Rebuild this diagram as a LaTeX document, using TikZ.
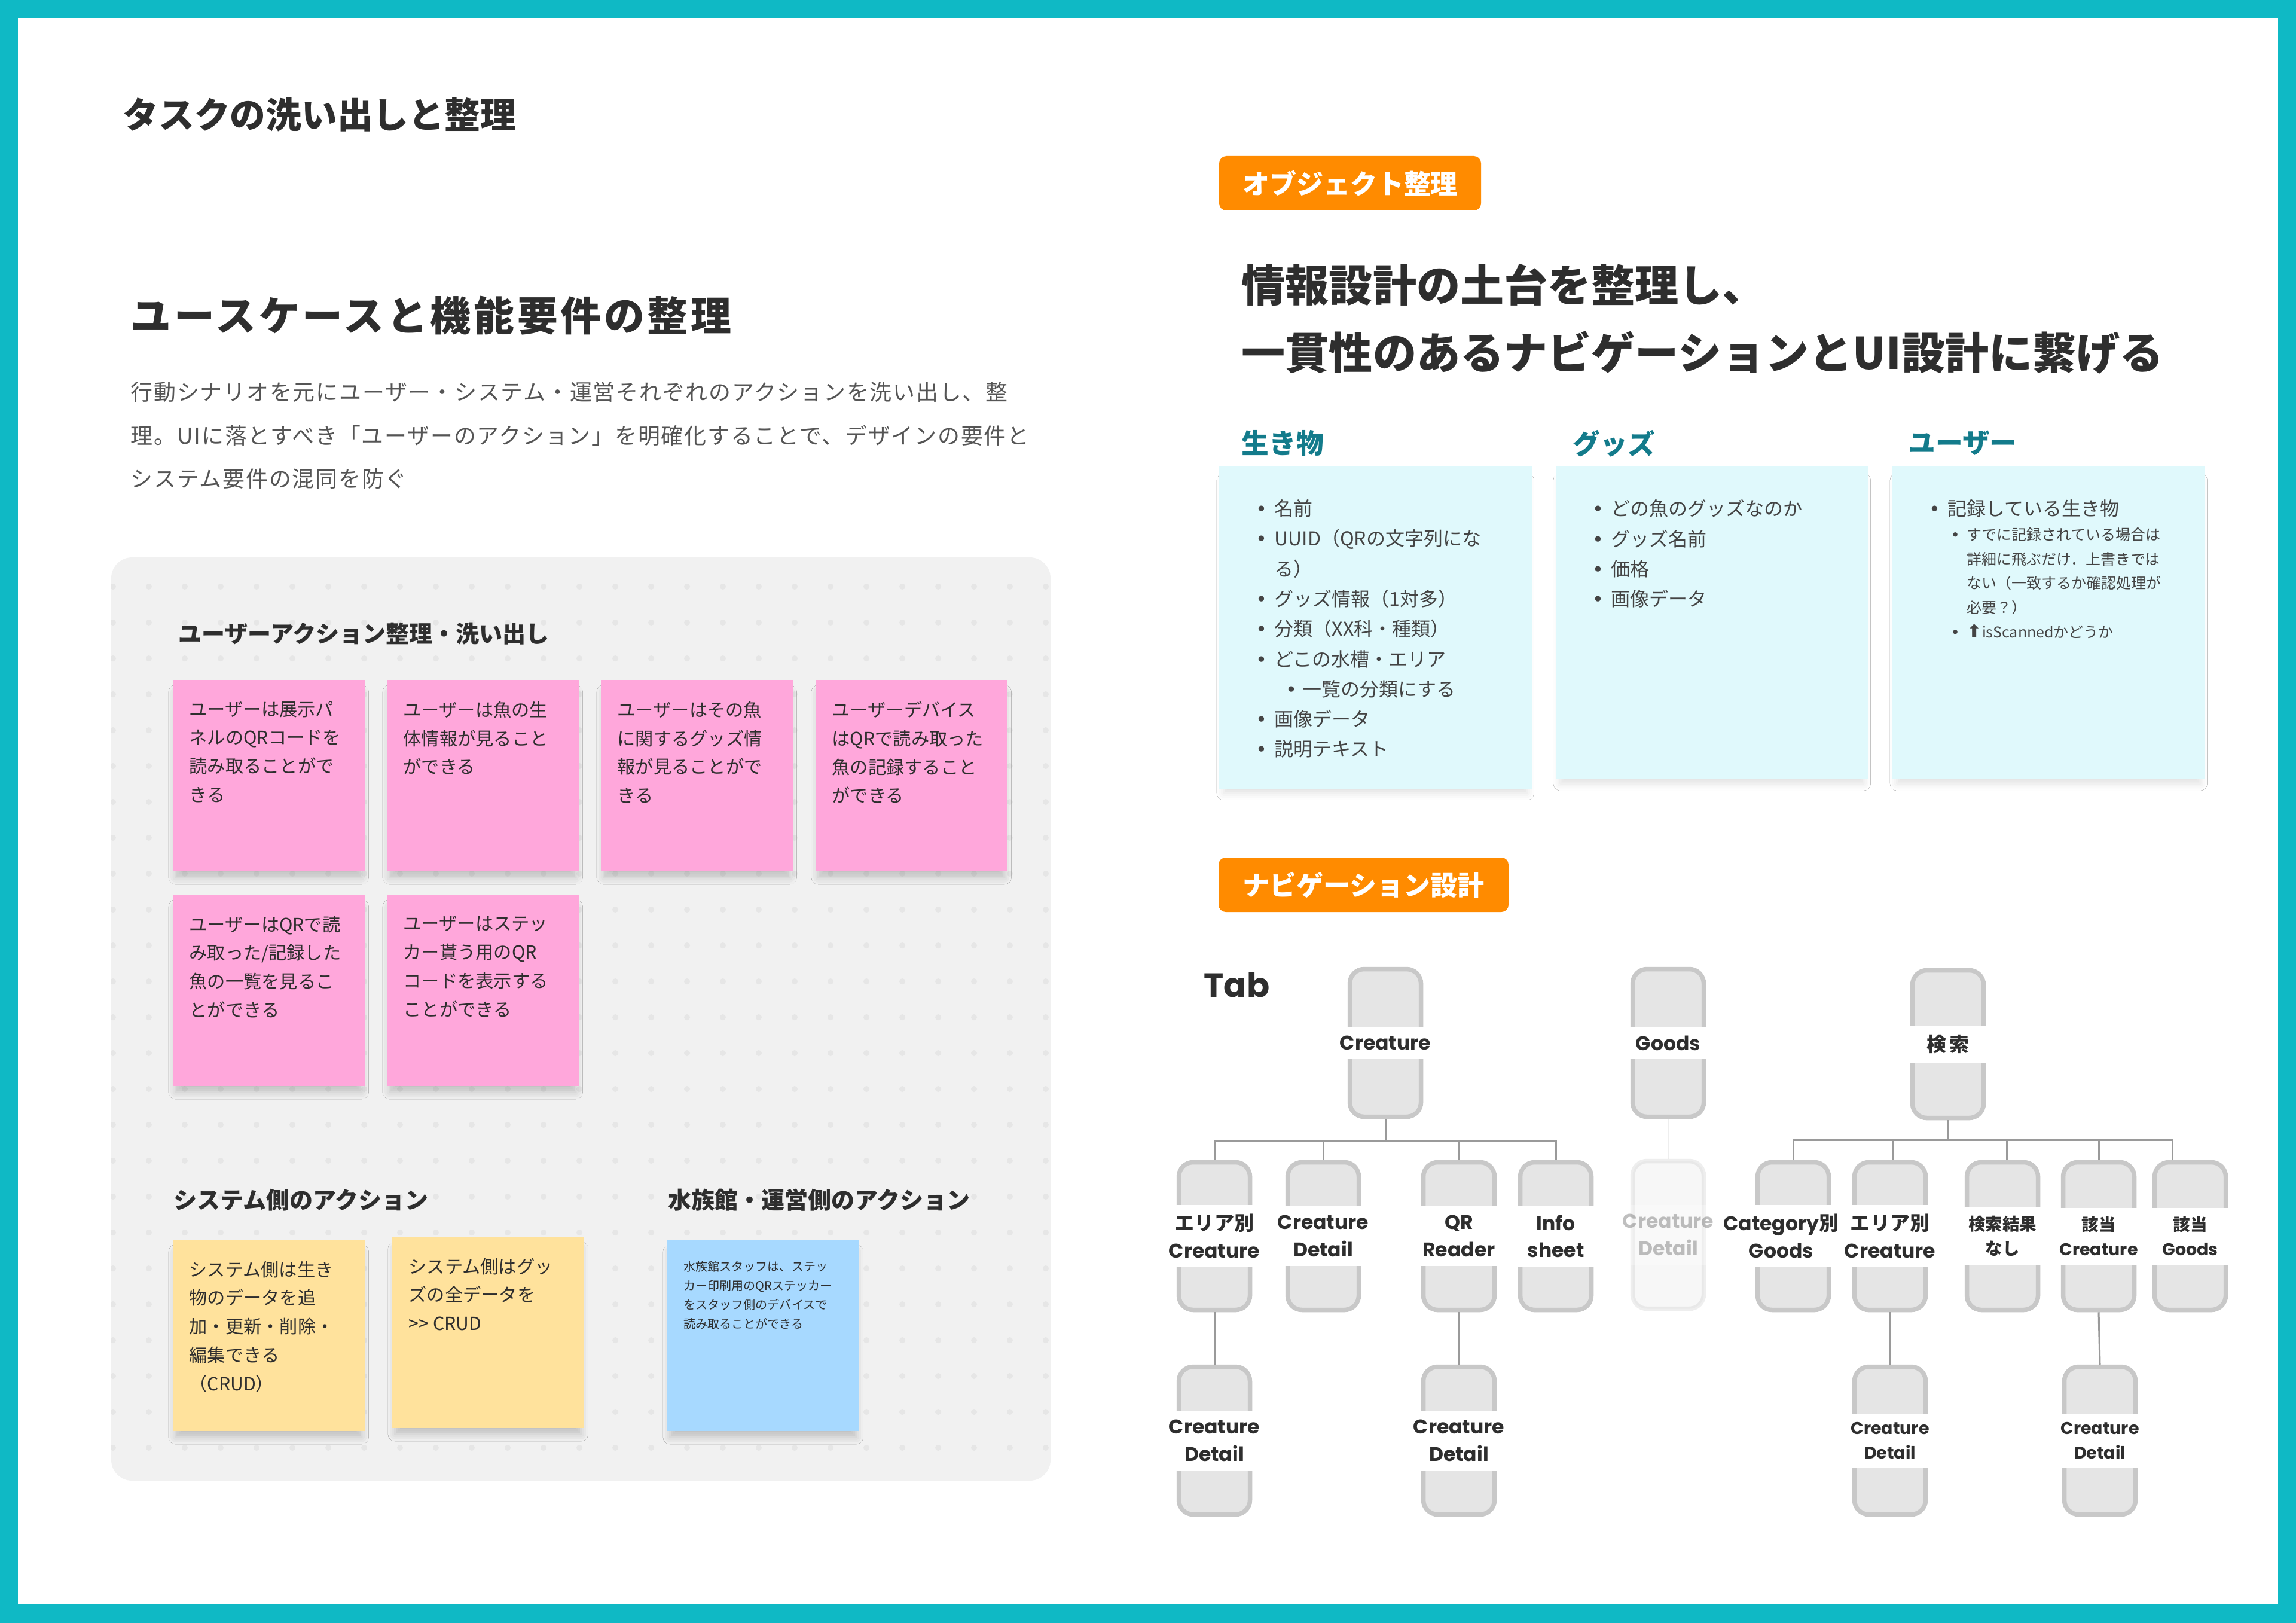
\documentclass[tikz,border=0pt]{standalone}
\usepackage{fontspec}
\setmainfont{Noto Sans CJK JP}
\newfontfamily\jp{Noto Sans CJK JP}
\newfontfamily\jpsp{Noto Sans CJK JP}[LetterSpace=7]
\newfontfamily\jpbody{Noto Sans CJK JP}[LetterSpace=5]
\newfontfamily\geo{Poppins}
\newfontfamily\sym{DejaVu Sans}
\usetikzlibrary{shadows.blur}

\definecolor{frameteal}{HTML}{0FB9C5}
\definecolor{ink}{HTML}{2E2E2E}
\definecolor{bodygray}{HTML}{555555}
\definecolor{panelgray}{HTML}{F1F1F1}
\definecolor{dotgray}{HTML}{E6E6E6}
\definecolor{pinknote}{HTML}{FFA7DB}
\definecolor{yellownote}{HTML}{FFE29C}
\definecolor{bluenote}{HTML}{A7D9FF}
\definecolor{cardcyan}{HTML}{E0F9FC}
\definecolor{badgeorange}{HTML}{FF8B00}
\definecolor{headteal}{HTML}{137B8B}
\definecolor{cardtext}{HTML}{444444}
\definecolor{navfill}{HTML}{E5E5E5}
\definecolor{navline}{HTML}{C8C8C8}
\definecolor{linkgray}{HTML}{9A9A9A}

\newcommand{\fsz}[2]{\fontsize{#1}{#2}\selectfont}
\newcommand{\J}[1]{{\jp #1}}
\newcommand{\notetext}[1]{\parbox[t][2.48cm][t]{2.65cm}{\fsz{8.6pt}{13.6pt}#1}}
\newcommand{\smallnote}[1]{\parbox[t][2.48cm][t]{2.65cm}{\fsz{5.7pt}{9.1pt}#1}}
\newcommand{\cardtext}[2]{\parbox[t][#1][t]{3.99cm}{\fsz{9.1pt}{14.3pt}#2}}
\newcommand{\bul}{\makebox[0.31cm][l]{\sym •}}

\begin{document}
\begin{tikzpicture}[x=1cm, y=-1cm,
  sticky/.style={anchor=north west, inner xsep=0.28cm, inner ysep=0.36cm, text=ink,
    blur shadow={shadow xshift=0cm, shadow yshift=-0.16cm, shadow scale=0.97, shadow blur radius=0.12cm, shadow opacity=20}},
  card/.style={anchor=north west, fill=cardcyan, inner xsep=0.62cm, inner ysep=0.56cm, text=cardtext,
    blur shadow={shadow xshift=0cm, shadow yshift=-0.16cm, shadow scale=0.97, shadow blur radius=0.12cm, shadow opacity=12}},
  badge/.style={fill=badgeorange, rounded corners=0.12cm, text=white, minimum height=0.91cm,
    inner sep=0, font=\fsz{12.8pt}{15pt}\bfseries},
  heading/.style={anchor=north west, inner sep=0, text=ink, font=\fsz{11.1pt}{13pt}\bfseries},
  colhead/.style={anchor=north west, inner sep=0, text=headteal, font=\fsz{13pt}{15pt}\bfseries},
  navbox/.style={draw=navline, fill=navfill, line width=0.075cm, rounded corners=0.24cm,
    minimum width=1.19cm, minimum height=2.47cm, inner sep=0},
  navlabel/.style={fill=white, minimum width=1.28cm, inner xsep=0, inner ysep=0.15cm,
    align=center, text=ink, font=\geo\bfseries\fsz{9.4pt}{13pt}},
  navsmall/.style={navlabel, font=\geo\bfseries\fsz{8.1pt}{11.5pt}},
  link/.style={draw=linkgray, line width=0.03cm},
]
    % Frame
    \fill[frameteal] (0,0) rectangle (38.4,27.14);
    \fill[white] (0.30,0.30) rectangle (38.10,26.83);
    \useasboundingbox (0,0) rectangle (38.4,27.14);

    % Titles (left)
    \node[anchor=north west, inner sep=0, text=ink, font=\fsz{17pt}{20pt}\bfseries] (title) at (2.05,1.63) {タスクの洗い出しと整理};
    \node[anchor=north west, inner sep=0, text=ink, font=\jpsp\fsz{19.3pt}{22pt}\bfseries] (usecase) at (2.18,4.94) {ユースケースと機能要件の整理};
    \node[anchor=north west, inner sep=0, align=left, text=bodygray, font=\jpbody\fsz{10.5pt}{20.6pt}] (intro) at (2.18,6.38)
        {行動シナリオを元にユーザー・システム・運営それぞれのアクションを洗い出し、整\\
         理。UIに落とすべき「ユーザーのアクション」を明確化することで、デザインの要件と\\
         システム要件の混同を防ぐ};

    % ==========================================
    % Board with sticky notes
    % ==========================================
    \fill[panelgray, rounded corners=0.35cm] (1.86,9.32) rectangle (17.57,24.76);
    \begin{scope}
        \clip[rounded corners=0.35cm] (1.86,9.32) rectangle (17.57,24.76);
        \foreach \i in {0,...,26}
            \foreach \j in {0,...,24}
                \fill[dotgray] ({1.89+0.6*\i},{9.81+0.6*\j}) circle (0.05);
    \end{scope}

    \node[heading] (userhead) at (2.98,10.40) {ユーザーアクション整理・洗い出し};

    % User actions (pink)
    \node[sticky, fill=pinknote] (u1) at (2.88,11.36) {\notetext{ユーザーは展示パ\\ネルのQRコードを\\読み取ることがで\\きる}};
    \node[sticky, fill=pinknote] (u2) at (6.46,11.36) {\notetext{ユーザーは魚の生\\体情報が見ること\\ができる}};
    \node[sticky, fill=pinknote] (u3) at (10.04,11.36) {\notetext{ユーザーはその魚\\に関するグッズ情\\報が見ることがで\\きる}};
    \node[sticky, fill=pinknote] (u4) at (13.63,11.36) {\notetext{ユーザーデバイス\\はQRで読み取った\\魚の記録すること\\ができる}};
    \node[sticky, fill=pinknote] (u5) at (2.88,14.95) {\notetext{ユーザーはQRで読\\み取った/記録した\\魚の一覧を見るこ\\とができる}};
    \node[sticky, fill=pinknote] (u6) at (6.46,14.95) {\notetext{ユーザーはステッ\\カー貰う用のQR\\コードを表示する\\ことができる}};

    % System / aquarium actions
    \node[heading] (syshead) at (2.90,19.87) {システム側のアクション};
    \node[heading] (aqhead) at (11.17,19.87) {水族館・運営側のアクション};
    \node[sticky, fill=yellownote] (s1) at (2.88,20.72) {\notetext{システム側は生き\\物のデータを追\\加・更新・削除・\\編集できる\\（CRUD）}};
    \node[sticky, fill=yellownote] (s2) at (6.55,20.67) {\notetext{システム側はグッ\\ズの全データを\\>{}> CRUD}};
    \node[sticky, fill=bluenote] (a1) at (11.15,20.72) {\smallnote{水族館スタッフは、ステッ\\カー印刷用のQRステッカー\\をスタッフ側のデバイスで\\読み取ることができる}};

    % ==========================================
    % Objects (right)
    % ==========================================
    \node[badge, minimum width=4.38cm] (objbadge) at (22.58,3.065) {オブジェクト整理};
    \node[anchor=north west, inner sep=0, align=left, text=ink, font=\fsz{20.8pt}{32.1pt}\bfseries] (ia) at (20.76,4.41)
        {情報設計の土台を整理し、\\一貫性のあるナビゲーションとUI設計に繋げる};

    \node[colhead] (creaturehead) at (20.76,7.19) {生き物};
    \node[colhead] (goodshead) at (26.30,7.19) {グッズ};
    \node[colhead] (userobjhead) at (31.91,7.19) {ユーザー};

    \node[card] (creaturecard) at (20.38,7.79) {\cardtext{4.27cm}{%
        \bul 名前\\
        \bul UUID（QRの文字列にな\\
        \hspace*{0.31cm}る）\\
        \bul グッズ情報（1対多）\\
        \bul 分類（XX科・種類）\\
        \bul どこの水槽・エリア\\
        \hspace*{0.50cm}\makebox[0.28cm][l]{\sym •}一覧の分類にする\\
        \bul 画像データ\\
        \bul 説明テキスト}};
    \node[card] (goodscard) at (26.01,7.79) {\cardtext{4.11cm}{%
        \bul どの魚のグッズなのか\\
        \bul グッズ名前\\
        \bul 価格\\
        \bul 画像データ}};
    \node[card] (usercard) at (31.64,7.79) {\cardtext{4.11cm}{%
        \bul 記録している生き物\par
        {\fsz{7.1pt}{11.6pt}%
        \hspace*{0.36cm}\makebox[0.27cm][l]{\sym •}すでに記録されている場合は\\
        \hspace*{0.63cm}詳細に飛ぶだけ．上書きでは\\
        \hspace*{0.63cm}ない（一致するか確認処理が\\
        \hspace*{0.63cm}必要？）\\
        \hspace*{0.36cm}\makebox[0.27cm][l]{\sym •}{\sym\fsz{8.6pt}{11.6pt}⬆}isScannedかどうか\par}}};

    % ==========================================
    % Navigation tree
    % ==========================================
    \node[badge, minimum width=4.85cm] (navbadge) at (22.805,14.795) {ナビゲーション設計};
    \node[anchor=north west, inner sep=0, text=ink, font=\geo\bfseries\fsz{16pt}{19pt}] (tab) at (20.13,16.25) {Tab};

    % Creature tab
    \node[navbox] (crTop) at (23.17,17.44) {};
    \node[navbox] (crArea) at (20.31,20.67) {};
    \node[navbox] (crDetail) at (22.13,20.67) {};
    \node[navbox] (crQR) at (24.40,20.67) {};
    \node[navbox] (crInfo) at (26.02,20.67) {};
    \node[navbox] (crAreaDetail) at (20.31,24.09) {};
    \node[navbox] (crQRDetail) at (24.40,24.09) {};

    \draw[link] (crTop.south) -- ++(0,0.37) -| (crArea.north);
    \draw[link] (crTop.south) -- ++(0,0.37) -| (crDetail.north);
    \draw[link] (crTop.south) -- ++(0,0.37) -| (crQR.north);
    \draw[link] (crTop.south) -- ++(0,0.37) -| (crInfo.north);
    \draw[link] (crArea.south) -- (crAreaDetail.north);
    \draw[link] (crQR.south) -- (crQRDetail.north);

    \node[navlabel] (crTopL) at (crTop) {Creature};
    \node[navlabel] (crAreaL) at (crArea) {\J{エリア別}\\Creature};
    \node[navlabel] (crDetailL) at (crDetail) {Creature\\Detail};
    \node[navlabel] (crQRL) at (crQR) {QR\\Reader};
    \node[navlabel] (crInfoL) at (crInfo) {Info\\sheet};
    \node[navlabel] (crAreaDetailL) at (crAreaDetail) {Creature\\Detail};
    \node[navlabel] (crQRDetailL) at (crQRDetail) {Creature\\Detail};

    % Goods tab
    \node[navbox] (gdTop) at (27.90,17.44) {};
    \node[navlabel] (gdTopL) at (gdTop) {Goods};
    \begin{scope}[opacity=0.3]
        \node[navbox] (gdDetail) at (27.90,20.65) {};
        \draw[link, draw=navline] (gdTop.south) -- (gdDetail.north);
        \node[navlabel] (gdDetailL) at (gdDetail) {Creature\\Detail};
    \end{scope}

    % Search tab
    \node[navbox] (srTop) at (32.58,17.46) {};
    \node[navbox] (srCat) at (29.99,20.67) {};
    \node[navbox] (srArea) at (31.61,20.67) {};
    \node[navbox] (srNone) at (33.49,20.67) {};
    \node[navbox] (srHitC) at (35.10,20.67) {};
    \node[navbox] (srHitG) at (36.63,20.67) {};
    \node[navbox] (srAreaDetail) at (31.61,24.09) {};
    \node[navbox] (srHitDetail) at (35.12,24.09) {};

    \draw[link] (srTop.south) -- ++(0,0.33) -| (srCat.north);
    \draw[link] (srTop.south) -- ++(0,0.33) -| ([xshift=0.04cm]srArea.north);
    \draw[link] (srTop.south) -- ++(0,0.33) -| ([xshift=0.07cm]srNone.north);
    \draw[link] (srTop.south) -- ++(0,0.33) -| (srHitC.north);
    \draw[link] (srTop.south) -- ++(0,0.33) -| ([xshift=-0.30cm]srHitG.north);
    \draw[link] (srArea.south) -- (srAreaDetail.north);
    \draw[link] (srHitC.south) -- (srHitDetail.north);

    \node[navlabel] (srTopL) at (srTop) {\J{検\,索}};
    \node[navlabel] (srAreaL) at (srArea) {\J{エリア別}\\Creature};
    \node[navlabel] (srCatL) at ([xshift=-0.2cm]srCat.center) {Category\J{別}\\Goods};
    \node[navsmall] (srNoneL) at (srNone) {\J{検索結果}\\\J{なし}};
    \node[navsmall] (srHitCL) at (srHitC) {\J{該当}\\Creature};
    \node[navsmall] (srHitGL) at (srHitG) {\J{該当}\\Goods};
    \node[navsmall] (srAreaDetailL) at (srAreaDetail) {Creature\\Detail};
    \node[navsmall] (srHitDetailL) at (srHitDetail) {Creature\\Detail};
\end{tikzpicture}
\end{document}
